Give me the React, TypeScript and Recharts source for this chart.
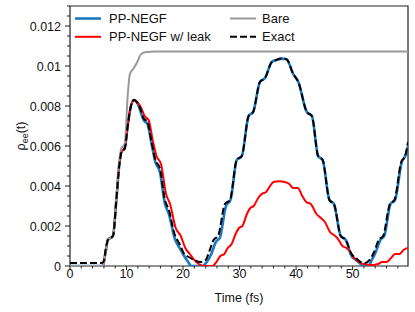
import { LineChart, Line, XAxis, YAxis, ReferenceArea } from "recharts";

const FONT = "'Liberation Sans', Arial, sans-serif";

// time (fs), rho_ee
const exact: [number, number][] = [
  [0, 0.00015], [5.5, 0.00015], [5.9, 0.0002], [6.3, 0.0008], [6.7, 0.0013], [7.6, 0.0015],
  [8.2, 0.0033], [8.7, 0.005], [9.1, 0.0057], [9.7, 0.0059], [10.2, 0.007], [10.7, 0.0079],
  [11.3, 0.0083], [11.8, 0.0082], [12.4, 0.0079], [13.0, 0.0074], [13.7, 0.0072], [14.5, 0.0061],
  [15.1, 0.0053], [15.9, 0.0049], [16.8, 0.0033], [17.5, 0.0028], [18.5, 0.0016], [19.4, 0.0011],
  [20.2, 0.0006], [21.0, 0.00045], [22.0, 0.0003], [23.0, 0.0002], [24.0, 0.0003], [24.6, 0.0007],
  [25.4, 0.0013], [26.2, 0.0015], [27.4, 0.0031], [28.3, 0.0033], [29.5, 0.0053], [30.4, 0.0055],
  [31.6, 0.0075], [32.4, 0.0077], [33.6, 0.0092], [34.5, 0.0094], [35.7, 0.0102], [36.5, 0.0103],
  [37.5, 0.01037], [38.3, 0.01034], [39.5, 0.0096], [40.4, 0.0092], [41.9, 0.0077], [42.8, 0.0075],
  [43.9, 0.0055], [44.7, 0.0053], [45.9, 0.0033], [46.7, 0.0031], [47.9, 0.0015], [48.8, 0.0013],
  [49.8, 0.0006], [50.6, 0.0004], [51.4, 0.0002], [52.2, 0.00015], [53.0, 0.0003], [53.8, 0.0007],
  [54.6, 0.0013], [55.4, 0.0015], [56.6, 0.0031], [57.4, 0.0033], [58.6, 0.0052], [59.3, 0.0055],
  [59.8, 0.0062],
];

const ppNegf: [number, number][] = [
  [0, 0], [5.8, 0], [6.3, 0.0007], [6.7, 0.0013], [7.6, 0.0015], [8.2, 0.0033], [8.7, 0.005],
  [9.1, 0.0057], [9.7, 0.0059], [10.2, 0.007], [10.7, 0.0079], [11.3, 0.0083], [11.8, 0.0082],
  [12.4, 0.0078], [13.0, 0.0073], [13.7, 0.0071], [14.5, 0.006], [15.1, 0.0052], [15.9, 0.0047],
  [16.8, 0.0031], [17.5, 0.0026], [18.5, 0.0014], [19.4, 0.0009], [20.2, 0.0005], [20.9, 0.0002],
  [21.5, 0], [23.4, 0], [24.2, 0.0002], [25.0, 0.0006], [25.8, 0.0012], [26.5, 0.0014],
  [27.6, 0.003], [28.4, 0.0033], [29.5, 0.0053], [30.4, 0.0055], [31.6, 0.0075], [32.4, 0.0077],
  [33.6, 0.0092], [34.5, 0.0094], [35.7, 0.0102], [36.5, 0.0103], [37.5, 0.01037], [38.3, 0.01034],
  [39.5, 0.0096], [40.4, 0.0092], [41.9, 0.0077], [42.8, 0.0075], [43.9, 0.0055], [44.7, 0.0053],
  [45.9, 0.0033], [46.7, 0.0031], [47.9, 0.0015], [48.8, 0.0013], [49.8, 0.0005], [50.6, 0.0003],
  [51.4, 0.0001], [51.9, 0], [52.8, 0], [53.4, 0.0003], [54.1, 0.0007], [54.9, 0.0013],
  [55.6, 0.0015], [56.7, 0.0031], [57.5, 0.0033], [58.7, 0.0052], [59.3, 0.0055], [59.8, 0.006],
];

const ppNegfLeak: [number, number][] = [
  [0, 0], [5.8, 0], [6.3, 0.0007], [6.7, 0.0013], [7.6, 0.0015], [8.2, 0.0033], [8.7, 0.005],
  [9.1, 0.0057], [9.7, 0.0059], [10.2, 0.007], [10.7, 0.0079], [11.3, 0.0083], [11.9, 0.0082],
  [12.6, 0.0079], [13.2, 0.0075], [13.9, 0.0073], [14.7, 0.0062], [15.3, 0.0055], [16.1, 0.0051],
  [17.0, 0.0036], [17.7, 0.0031], [18.7, 0.0019], [19.6, 0.0015], [20.4, 0.0009], [21.2, 0.0006],
  [22.0, 0.0003], [22.8, 0.0001], [23.5, 0], [25.2, 0], [25.9, 0.0002], [26.6, 0.0005],
  [27.3, 0.0006], [27.9, 0.0009], [28.6, 0.0011], [29.3, 0.0016], [29.9, 0.0019], [30.5, 0.002],
  [31.3, 0.0026], [31.9, 0.0029], [32.5, 0.003], [33.3, 0.0034], [33.9, 0.0036], [34.7, 0.0037],
  [35.4, 0.004], [36.0, 0.0042], [37.0, 0.00424], [38.0, 0.0042], [38.8, 0.0041], [39.5, 0.0039],
  [40.3, 0.0039], [41.1, 0.0035], [41.8, 0.0032], [42.6, 0.0031], [43.6, 0.0026], [44.4, 0.0024],
  [45.1, 0.0022], [46.0, 0.0017], [46.7, 0.00155], [47.3, 0.0014], [48.2, 0.001], [48.9, 0.0009],
  [49.6, 0.0007], [50.3, 0.0004], [51.1, 0.0002], [51.9, 0.0001], [53.5, 0.00005], [54.5, 0.0001],
  [55.2, 0.0002], [56.0, 0.0002], [56.8, 0.0004], [57.5, 0.0006], [58.3, 0.0006], [59.0, 0.0008],
  [59.8, 0.0009],
];

const bare: [number, number][] = [
  [0, 0], [5.8, 0], [6.3, 0.0007], [6.7, 0.0013], [7.6, 0.0015], [8.2, 0.0034], [8.7, 0.0052],
  [9.1, 0.0059], [9.7, 0.0061], [10.2, 0.0085], [10.6, 0.0096], [11.3, 0.0099], [11.9, 0.0102],
  [12.6, 0.0106], [13.5, 0.0107], [15.0, 0.01072], [59.8, 0.01072],
];

const xMajorTicks = [0, 10, 20, 30, 40, 50];
const xMinorTicks = [2, 4, 6, 8, 12, 14, 16, 18, 22, 24, 26, 28, 32, 34, 36, 38, 42, 44, 46, 48, 52, 54, 56, 58];
const yMajorTicks = [0, 0.002, 0.004, 0.006, 0.008, 0.01, 0.012];
const yMajorLabels = ["0", "0.002", "0.004", "0.006", "0.008", "0.01", "0.012"];
const yMinorTicks = [
  0.0005, 0.001, 0.0015, 0.0025, 0.003, 0.0035, 0.0045, 0.005, 0.0055, 0.0065, 0.007, 0.0075,
  0.0085, 0.009, 0.0095, 0.0105, 0.011, 0.0115, 0.0125, 0.013,
];

const series = [
  { name: "PP-NEGF", data: ppNegf, color: "#1a78c2", width: 2.6, dash: undefined as string | undefined },
  { name: "PP-NEGF w/ leak", data: ppNegfLeak, color: "#ff0000", width: 2, dash: undefined },
  { name: "Bare", data: bare, color: "#999999", width: 2, dash: undefined },
  { name: "Exact", data: exact, color: "#000000", width: 2, dash: "7 3" },
];

const toPoints = (arr: [number, number][]) => arr.map(([t, v]) => ({ t, v }));

const XTick = (props: any) => {
  const { x, y, payload } = props;
  const idx = xMajorTicks.indexOf(payload.value);
  const major = idx >= 0;
  return (
    <g>
      <line x1={x} x2={x} y1={y} y2={y + (major ? 4 : 2.5)} stroke="#222" strokeWidth={1} />
      {major && (
        <text x={x} y={y + 12} textAnchor="middle" fontSize={12.5} fontFamily={FONT} fill="#111">
          {payload.value}
        </text>
      )}
    </g>
  );
};

const YTick = (props: any) => {
  const { x, y, payload } = props;
  const idx = yMajorTicks.indexOf(payload.value);
  const major = idx >= 0;
  return (
    <g>
      <line x1={x - (major ? 5 : 3)} x2={x} y1={y} y2={y} stroke="#222" strokeWidth={1} />
      {major && (
        <text x={x - 9} y={y + 4.5} textAnchor="end" fontSize={12.5} fontFamily={FONT} fill="#111">
          {yMajorLabels[idx]}
        </text>
      )}
    </g>
  );
};

const YLabel = (props: any) => {
  const vb = props.viewBox;
  const cx = vb.x + 25;
  const cy = vb.y + vb.height / 2;
  return (
    <text
      transform={`translate(${cx},${cy}) rotate(-90)`}
      textAnchor="middle"
      fontSize={12.5}
      fontFamily={FONT}
      fill="#111"
    >
      ρ<tspan fontSize={9} dy={3}>ee</tspan>
      <tspan dy={-3}>(t)</tspan>
    </text>
  );
};

const XLabel = (props: any) => {
  const vb = props.viewBox;
  return (
    <text x={vb.x + vb.width / 2} y={vb.y + 36} textAnchor="middle" fontSize={12.5} fontFamily={FONT} fill="#111">
      Time (fs)
    </text>
  );
};

function LegendOverlay() {
  const cols = [
    { lineX: 75, textX: 109 },
    { lineX: 230, textX: 262 },
  ];
  const rows = [18.5, 36.8];
  return (
    <svg width={415} height={312} style={{ position: "absolute", left: 0, top: 0, pointerEvents: "none" }}>
      {series.map((s, i) => {
        const col = cols[Math.floor(i / 2)];
        const y = rows[i % 2];
        return (
          <g key={s.name}>
            <line
              x1={col.lineX}
              x2={col.lineX + 26}
              y1={y}
              y2={y}
              stroke={s.color}
              strokeWidth={s.width}
              strokeDasharray={s.dash}
            />
            <text x={col.textX} y={y + 4.5} fontSize={13} fontFamily={FONT} fill="#111">
              {s.name}
            </text>
          </g>
        );
      })}
    </svg>
  );
}

export default function App() {
  return (
    <div style={{ position: "fixed", left: 0, top: 0, width: 415, height: 312, background: "#fff" }}>
      <LineChart width={415} height={312} margin={{ top: 6, right: 7, bottom: 0, left: 0 }}>
        <XAxis
          dataKey="t"
          type="number"
          domain={[0, 59.8]}
          allowDataOverflow
          ticks={[...xMajorTicks, ...xMinorTicks].sort((a, b) => a - b)}
          interval={0}
          tickSize={0}
          tickMargin={0}
          axisLine={false}
          tickLine={false}
          tick={<XTick />}
          height={46}
          label={XLabel}
        />
        <YAxis
          type="number"
          domain={[0, 0.013]}
          allowDataOverflow
          ticks={[...yMajorTicks, ...yMinorTicks].sort((a, b) => a - b)}
          interval={0}
          tickSize={0}
          tickMargin={0}
          axisLine={false}
          tickLine={false}
          tick={<YTick />}
          width={70}
          label={YLabel}
        />
        {series.map((s) => (
          <Line
            key={s.name}
            data={toPoints(s.data)}
            dataKey="v"
            name={s.name}
            type="monotone"
            stroke={s.color}
            strokeWidth={s.width}
            strokeDasharray={s.dash}
            dot={false}
            activeDot={false}
            isAnimationActive={false}
          />
        ))}
        <ReferenceArea x1={0} x2={59.8} y1={0} y2={0.013} fill="none" stroke="#222" strokeWidth={1.2} />
      </LineChart>
      <LegendOverlay />
    </div>
  );
}
